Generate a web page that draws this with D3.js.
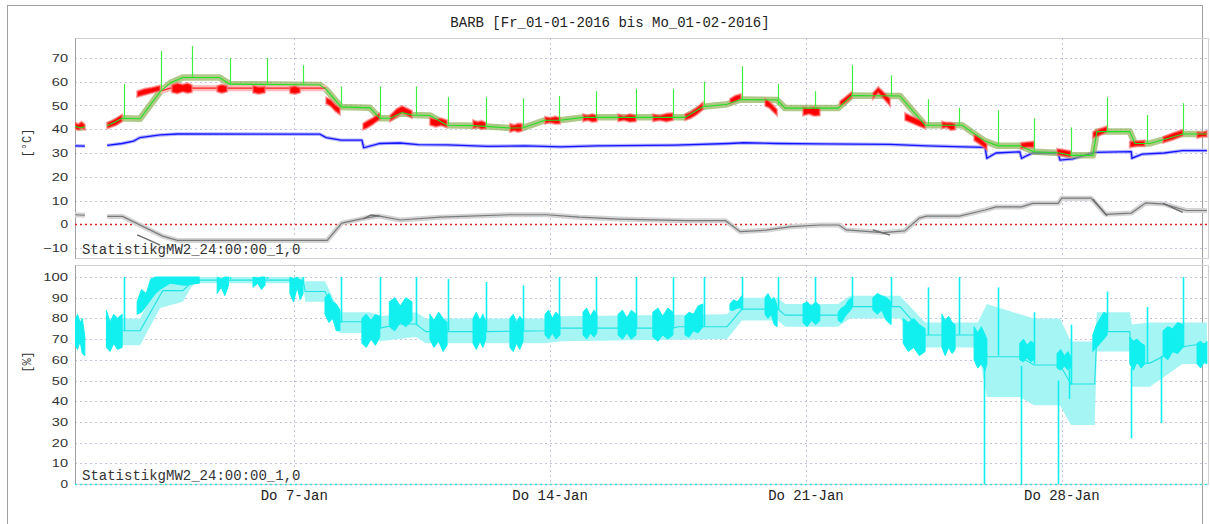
<!DOCTYPE html>
<html>
<head>
<meta charset="utf-8">
<script src="https://cdn.jsdelivr.net/npm/d3@7"></script>
<style>
body { margin: 0; background: #fff; }
</style>
</head>
<body>
<div id="chart"></div>
<script>
// all times are days after Fr 01-01-2016 00:00

// upper panel, temperatures [°C]
var tempTicks = [-10, 0, 10, 20, 30, 40, 50, 60, 70];
var greenLine = [
    [[0.00, 41.2], [0.14, 40.6], [0.27, 41.0]],
    [[0.88, 41.5], [1.10, 43.0], [1.29, 44.6], [1.78, 44.4], [2.33, 55.8], [2.62, 59.6], [2.95, 61.8], [3.95, 61.8],
     [4.24, 59.0], [6.70, 58.6], [6.87, 56.8], [7.28, 49.4], [8.07, 49.0], [8.34, 44.6], [8.62, 44.6], [8.95, 47.0],
     [9.22, 46.0], [9.71, 45.8], [10.18, 41.7], [10.89, 41.5], [11.24, 41.2], [11.90, 40.5], [12.26, 40.6],
     [12.86, 43.8], [13.27, 43.8], [13.90, 45.0], [16.69, 45.0], [17.18, 49.5], [17.84, 50.5], [18.22, 52.5],
     [19.21, 52.3], [19.43, 48.9], [20.88, 48.9], [21.26, 54.2], [22.57, 54.0], [23.26, 41.7], [24.27, 41.7],
     [24.90, 35.0], [25.25, 33.0], [25.85, 33.0], [26.24, 30.5], [26.95, 30.0], [27.25, 29.0], [27.85, 29.0],
     [27.96, 39.0], [28.86, 39.0], [29.00, 34.0], [29.41, 34.0], [30.31, 38.0], [30.97, 38.0]]
];
var redMean = [[2.33, 56.0], [2.60, 57.3], [6.87, 57.3]];
var redClusters = [
    [[0.00, 40.2, 42.8], [0.09, 39.6, 42.2], [0.18, 40.4, 43.2], [0.27, 39.8, 42.0]],
    [[0.88, 40.3, 42.8], [1.00, 41.0, 43.6], [1.12, 41.6, 44.6], [1.29, 43.3, 46.2]],
    [[1.70, 53.6, 56.0], [1.90, 54.4, 57.0], [2.10, 55.2, 57.6], [2.33, 56.2, 58.4]],
    [[2.65, 55.6, 58.6], [2.80, 55.0, 59.4], [2.95, 55.8, 58.8], [3.08, 55.2, 59.4], [3.20, 55.6, 58.6]],
    [[3.89, 55.8, 58.2], [4.02, 55.2, 58.8], [4.16, 55.8, 58.2]],
    [[4.87, 55.4, 58.4], [5.03, 54.8, 57.8], [5.20, 55.4, 58.0]],
    [[5.88, 55.2, 57.8], [6.02, 54.8, 58.2], [6.16, 55.4, 57.4]],
    [[6.87, 50.8, 53.4], [7.00, 49.6, 52.4], [7.12, 47.6, 50.4], [7.25, 46.2, 48.8]],
    [[7.88, 39.8, 42.4], [8.00, 40.6, 43.6], [8.15, 42.0, 44.8], [8.34, 44.2, 46.8]],
    [[8.62, 43.3, 45.8], [8.80, 45.2, 48.6], [8.95, 46.8, 49.8], [9.22, 44.8, 47.8]],
    [[9.71, 41.8, 44.8], [9.87, 41.0, 44.2], [10.02, 41.6, 44.6], [10.18, 40.8, 43.8]],
    [[10.89, 40.3, 43.8], [11.02, 40.8, 43.2], [11.12, 40.0, 43.6], [11.24, 40.3, 42.8]],
    [[11.90, 38.8, 42.3], [12.02, 39.4, 41.8], [12.12, 38.8, 42.4], [12.23, 39.3, 42.3]],
    [[12.86, 42.3, 45.3], [13.00, 42.8, 44.8], [13.14, 42.2, 45.4], [13.27, 42.3, 44.8]],
    [[13.90, 43.3, 46.3], [14.03, 43.8, 45.8], [14.15, 43.0, 46.4], [14.28, 43.3, 45.8]],
    [[14.86, 43.3, 46.3], [15.02, 43.8, 45.6], [15.18, 43.0, 46.4], [15.35, 43.3, 45.8]],
    [[15.81, 43.3, 46.3], [16.00, 43.8, 45.8], [16.18, 43.2, 46.6], [16.36, 43.8, 46.8]],
    [[16.69, 43.8, 46.3], [16.85, 44.6, 47.4], [17.02, 46.2, 49.2], [17.18, 48.3, 51.3]],
    [[17.92, 50.8, 52.8], [18.07, 51.6, 54.2], [18.22, 52.8, 54.8]],
    [[18.88, 49.8, 52.8], [18.99, 49.0, 51.8], [19.10, 47.4, 50.2], [19.21, 45.8, 48.3]],
    [[19.92, 45.8, 49.3], [20.08, 46.4, 48.8], [20.23, 45.6, 49.4], [20.38, 45.8, 48.8]],
    [[20.93, 49.8, 51.8], [21.08, 51.0, 53.6], [21.26, 53.3, 55.8]],
    [[21.83, 52.8, 55.3], [21.98, 55.3, 57.8], [22.14, 52.6, 55.4], [22.30, 49.8, 52.8]],
    [[22.71, 43.8, 46.8], [22.90, 42.6, 45.4], [23.08, 41.4, 44.2], [23.26, 40.3, 42.8]],
    [[23.72, 40.3, 43.3], [23.84, 40.8, 42.8], [23.96, 39.6, 42.8], [24.08, 39.8, 42.3]],
    [[24.60, 35.3, 37.8], [24.78, 33.4, 36.2], [24.95, 31.3, 33.8]],
    [[25.88, 31.8, 34.3], [26.06, 32.4, 34.6], [26.24, 32.3, 34.8]],
    [[26.87, 29.3, 31.8], [27.06, 28.6, 31.4], [27.25, 28.3, 30.8]],
    [[27.85, 36.3, 38.8], [28.04, 37.4, 40.2], [28.24, 38.8, 41.3]],
    [[28.86, 32.3, 34.8], [29.06, 32.8, 35.0], [29.27, 32.8, 35.3]],
    [[29.77, 34.3, 36.8], [30.04, 35.6, 38.4], [30.31, 37.3, 39.8]],
    [[30.70, 36.3, 38.8], [30.84, 36.8, 38.6], [30.97, 36.8, 39.3]]
];
var greenSpikes = [  // [day, from, to]
    [1.34, 44.5, 59], [2.35, 56, 73], [3.20, 62, 75], [4.24, 59, 70], [5.25, 58.5, 70], [6.24, 58.5, 67],
    [7.28, 49.4, 58], [8.34, 44.6, 58], [9.33, 46, 58], [10.20, 41.7, 53.5], [11.24, 41.2, 53.5],
    [12.26, 40.6, 53], [13.24, 43.8, 54], [14.25, 45, 56], [15.35, 45, 57], [16.36, 45, 57],
    [17.21, 49.5, 60], [18.25, 52.5, 66.5], [19.23, 50, 59], [20.25, 48.9, 56], [21.26, 54.2, 67],
    [22.33, 54, 62.7], [23.34, 41.7, 52.6], [24.19, 41.7, 49], [25.25, 33, 48], [26.24, 30.5, 44.6],
    [27.25, 29, 40.8], [28.24, 39, 53.5], [29.33, 34, 46], [30.31, 38, 51]
];
var blueLine = [
    [[0.00, 33.0], [0.27, 32.9]],
    [[0.88, 33.2], [1.29, 34.0], [1.60, 35.0], [1.78, 36.5], [2.33, 37.6], [2.80, 38.0], [6.70, 37.9],
     [6.87, 36.5], [7.28, 35.4], [7.85, 35.4], [7.90, 32.2], [8.34, 34.0], [8.89, 34.2], [9.40, 33.5],
     [10.20, 33.4], [11.30, 32.8], [12.30, 33.0], [13.30, 32.6], [14.30, 33.0], [16.40, 33.3], [17.90, 34.0],
     [18.30, 34.3], [19.20, 34.0], [20.40, 33.8], [22.30, 33.6], [23.30, 33.0], [24.30, 32.6], [24.90, 32.4],
     [24.95, 27.8], [25.20, 30.0], [25.85, 30.5], [25.90, 27.8], [26.20, 30.0], [26.90, 30.0], [26.95, 27.0],
     [27.30, 27.5], [27.90, 30.3], [28.90, 30.6], [28.92, 27.8], [29.20, 29.5], [29.80, 30.0], [30.30, 31.0],
     [30.97, 31.0]]
];
var grayLine = [
    [[0.00, 4.0], [0.27, 3.8]],
    [[0.88, 3.3], [1.30, 3.3], [2.40, -5.0], [2.80, -6.8], [6.90, -6.8], [7.30, 0.5], [7.90, 2.5], [8.30, 3.5],
     [8.90, 1.8], [10.00, 3.0], [11.90, 4.0], [12.90, 4.0], [13.80, 3.0], [14.90, 2.2], [16.70, 1.5],
     [17.80, 1.5], [18.20, -3.1], [18.90, -2.5], [19.60, -1.0], [20.40, -0.3], [20.90, -0.3], [21.10, -2.4],
     [22.10, -3.5], [22.70, -2.8], [23.10, 2.6], [23.30, 3.4], [24.20, 3.4], [24.90, 6.0], [25.20, 7.3],
     [25.90, 7.3], [26.20, 8.8], [26.90, 8.8], [27.00, 11.0], [27.80, 11.0], [28.20, 4.2], [28.90, 4.7],
     [29.30, 9.0], [29.80, 8.5], [30.40, 5.8], [30.97, 5.8]]
];
var grayRaw = [
    [[1.70, -4.5], [2.00, -6.5], [2.33, -8.8]],
    [[7.88, 2.2], [8.10, 3.9], [8.34, 3.4]],
    [[21.83, -2.4], [22.30, -4.6]],
    [[27.85, 10.6], [28.05, 7.0], [28.24, 3.6]],
    [[29.77, 8.8], [30.31, 5.0]]
];

// lower panel, relative humidity [%]
var humTicks = [0, 10, 20, 30, 40, 50, 60, 70, 80, 90, 100];
var humMean = [
    [0.88, 73], [1.29, 74], [1.78, 74], [2.40, 93.4], [2.95, 93.4], [3.25, 98.5], [6.24, 98.5], [6.30, 93],
    [6.84, 93], [7.25, 78.4], [8.07, 78.4], [8.34, 75.3], [8.90, 77.3], [9.33, 77.3], [9.60, 73.6],
    [11.24, 73.6], [12.86, 74], [13.30, 75.3], [16.36, 75.3], [16.50, 76], [17.84, 76], [18.25, 84.5],
    [19.23, 84.5], [19.43, 81.6], [20.88, 81.6], [21.20, 85.7], [22.57, 85.7], [23.26, 72], [24.90, 72],
    [24.95, 61.5], [25.85, 61.5], [26.24, 57.5], [26.95, 57.5], [27.25, 48.3], [27.90, 48.3], [27.96, 73.6],
    [28.86, 73.6], [28.92, 58.4], [29.41, 58.4], [30.30, 66.3], [30.97, 68]
];
var humBand = [  // [day, low, high]
    [0.88, 67, 80], [1.78, 67, 80], [2.33, 85, 99], [2.95, 88, 99], [3.25, 97, 100], [6.24, 97, 100],
    [6.30, 88, 98], [6.84, 88, 98], [7.25, 73, 83], [8.07, 73, 83], [8.34, 69, 81], [9.33, 71, 83],
    [9.60, 68, 80], [12.86, 68, 80], [13.30, 69, 81], [17.84, 70, 82], [18.25, 79, 90], [19.23, 79, 90],
    [19.43, 76, 87], [20.88, 76, 87], [21.20, 80, 91], [22.57, 80, 91], [23.26, 66, 78], [24.70, 66, 78],
    [24.95, 42, 87], [25.85, 42, 82], [26.24, 38, 80], [26.95, 38, 80], [27.25, 28.5, 68.8], [27.90, 28.5, 68.8],
    [27.96, 64, 83], [28.86, 64, 83], [28.92, 47, 77], [29.41, 47, 78], [30.30, 58, 78], [30.97, 58, 78]
];
var humClusters = [
    [[0.00, 67, 79], [0.07, 65, 82], [0.14, 69, 78], [0.20, 63, 80], [0.27, 62, 71]],
    [[0.86, 66, 84], [0.96, 64, 78], [1.06, 68, 82], [1.16, 65, 80], [1.29, 66, 82]],
    [[1.70, 82, 88], [1.82, 83, 94], [1.95, 86, 92], [2.07, 89, 99], [2.20, 92, 100], [2.33, 94, 100],
     [2.60, 97, 100], [3.00, 96, 100], [3.40, 97, 100]],
    [[3.89, 92, 100], [4.00, 95, 99], [4.10, 91, 100], [4.20, 96, 100]],
    [[4.87, 95, 100], [5.00, 97, 99.5], [5.10, 94, 100], [5.20, 96, 100]],
    [[5.88, 92, 100], [5.98, 88, 99], [6.08, 95, 100], [6.16, 89, 98], [6.24, 92, 99]],
    [[6.84, 82, 90], [6.95, 78, 92], [7.05, 80, 88], [7.15, 74, 87], [7.25, 74, 84]],
    [[7.85, 68, 80], [7.97, 66, 82], [8.10, 70, 79], [8.22, 67, 82], [8.34, 71, 81]],
    [[8.60, 76, 88], [8.75, 74, 90], [8.90, 78, 86], [9.05, 76, 90], [9.22, 79, 88]],
    [[9.71, 70, 82], [9.82, 66, 79], [9.95, 69, 83], [10.07, 64, 80], [10.18, 67, 78]],
    [[10.89, 68, 80], [10.98, 65, 83], [11.08, 69, 79], [11.16, 66, 82], [11.24, 70, 78]],
    [[11.90, 66, 80], [11.99, 64, 82], [12.08, 68, 78], [12.17, 65, 81], [12.26, 69, 79]],
    [[12.86, 72, 82], [12.96, 70, 84], [13.06, 73, 80], [13.16, 70, 83], [13.27, 72, 81]],
    [[13.90, 72, 83], [14.00, 70, 85], [14.10, 73, 81], [14.20, 71, 84], [14.28, 73, 82]],
    [[14.86, 72, 82], [14.98, 70, 84], [15.10, 73, 80], [15.22, 70, 84], [15.35, 72, 82]],
    [[15.81, 71, 83], [15.95, 69, 85], [16.08, 72, 81], [16.22, 70, 85], [16.36, 72, 83]],
    [[16.69, 72, 81], [16.80, 71, 83], [16.92, 74, 82], [17.05, 73, 86], [17.18, 76, 87]],
    [[17.92, 84, 87], [18.02, 84, 89], [18.12, 85, 88], [18.25, 85, 91]],
    [[18.88, 82, 90], [18.96, 80, 92], [19.05, 82, 89], [19.13, 77, 90], [19.21, 76, 86]],
    [[19.92, 78, 87], [20.03, 76, 88], [20.15, 79, 86], [20.27, 77, 88], [20.38, 79, 86]],
    [[20.88, 79, 83], [20.97, 78, 85], [21.07, 81, 86], [21.17, 83, 89], [21.26, 85, 90]],
    [[21.83, 84, 90], [21.95, 82, 92], [22.07, 84, 91], [22.20, 79, 90], [22.33, 77, 88]],
    [[22.66, 68, 80], [22.80, 64, 78], [22.95, 66, 80], [23.10, 62, 77], [23.26, 64, 75]],
    [[23.72, 66, 82], [23.81, 62, 79], [23.90, 66, 81], [24.00, 63, 78], [24.08, 65, 77]],
    [[24.60, 60, 76], [24.70, 56, 73], [24.80, 58, 76], [24.90, 55, 72], [24.95, 58, 70]],
    [[25.85, 60, 68], [25.95, 59, 70], [26.05, 61, 67], [26.15, 59, 69], [26.24, 60, 68]],
    [[26.87, 56, 63], [26.97, 55, 65], [27.07, 57, 62], [27.17, 55, 64], [27.25, 56, 61]],
    [[27.85, 64, 72], [27.95, 66, 77], [28.05, 68, 80], [28.15, 70, 83], [28.24, 72, 82]],
    [[28.86, 58, 71], [28.96, 55, 69], [29.06, 59, 70], [29.17, 56, 68], [29.27, 58, 67]],
    [[29.77, 62, 74], [29.90, 60, 76], [30.03, 64, 75], [30.17, 63, 78], [30.31, 66, 77]],
    [[30.70, 58, 68], [30.80, 56, 69], [30.90, 59, 67], [30.97, 58, 69]]
];
var humSpikes = [  // [day, from, to]
    [1.34, 74, 100], [3.20, 99, 100], [4.24, 99, 100], [5.25, 99, 100], [6.24, 99, 100], [7.28, 78, 100],
    [8.34, 75, 100], [9.33, 77, 100], [10.20, 74, 99], [11.24, 74, 97.6], [12.26, 74, 96], [13.24, 75, 100],
    [14.25, 75, 100], [15.35, 75, 100], [16.36, 76, 100], [17.21, 76, 100], [18.25, 84, 100], [19.23, 84, 100],
    [20.25, 82, 100], [21.26, 86, 100], [22.33, 86, 100], [23.34, 72, 95], [24.19, 72, 100], [25.25, 62, 95],
    [26.24, 58, 83], [27.25, 48, 77], [28.24, 74, 93], [29.33, 58, 85.5], [30.31, 66, 100],
    [24.87, 60, 0], [25.88, 57, 0], [26.89, 50, 0], [27.20, 55, 41], [28.89, 56, 22], [29.71, 62, 29.5]
];
var weekTicks = [6, 13, 20, 27];
var weekLabels = ['Do 7-Jan', 'Do 14-Jan', 'Do 21-Jan', 'Do 28-Jan'];
var titleText = 'BARB [Fr_01-01-2016 bis Mo_01-02-2016]';
var statLabel = 'StatistikgMW2_24:00:00_1,0';

var width = 1210, height = 524;
var plot = { left: 75, right: 1208, top1: 38, bottom1: 258, top2: 265, bottom2: 484 };

var t0 = new Date(2016, 0, 1);
function day (d) { return new Date(t0.getTime() + d * 864e5); }

var xScale = d3.scaleTime()
               .domain([t0, new Date(2016, 1, 1)])
               .range([plot.left, plot.right]);
var yTemp = d3.scaleLinear().domain([-14.2, 78.4]).range([plot.bottom1, plot.top1]);
var yHum  = d3.scaleLinear().domain([0, 105.8]).range([plot.bottom2, plot.top2]);

var svg = d3.select('#chart').append('svg')
            .attr('width', width)
            .attr('height', height);

// outer frame
svg.append('rect')
   .attr('x', 7.5).attr('y', 5.5).attr('width', 1195).attr('height', 530)
   .attr('fill', 'none').attr('stroke', '#a0a0a0');

svg.append('text')
   .attr('x', 610).attr('y', 27)
   .attr('text-anchor', 'middle')
   .attr('font-family', 'Liberation Mono, monospace')
   .attr('font-size', '14px')
   .attr('fill', '#222')
   .text(titleText);

function panel (ys, top, bottom, ticks, zeroColour, unit, unitY)
{
    var g = svg.append('g');

    g.append('rect')
     .attr('x', plot.left + 0.5).attr('y', top + 0.5)
     .attr('width', plot.right - plot.left).attr('height', bottom - top)
     .attr('fill', 'none').attr('stroke', '#d0d0d0');

    // grid
    g.selectAll('.hgrid').data(ticks.filter(function (t) { return t != 0; }))
     .enter().append('line')
     .attr('x1', plot.left).attr('x2', plot.right)
     .attr('y1', function (d) { return Math.round(ys(d)) + 0.5; })
     .attr('y2', function (d) { return Math.round(ys(d)) + 0.5; })
     .attr('stroke', '#c4c4dc').attr('stroke-dasharray', '2,3');

    g.selectAll('.vgrid').data(weekTicks)
     .enter().append('line')
     .attr('x1', function (d) { return Math.round(xScale(day(d))) + 0.5; })
     .attr('x2', function (d) { return Math.round(xScale(day(d))) + 0.5; })
     .attr('y1', top).attr('y2', bottom)
     .attr('stroke', '#c4c4dc').attr('stroke-dasharray', '2,3');

    var yAxis = d3.axisLeft(ys).tickValues(ticks).tickSize(0).tickPadding(7);
    var ax = g.append('g')
              .attr('transform', 'translate(' + plot.left + ',0)')
              .call(yAxis);
    ax.select('.domain').attr('stroke', '#a0a0a0');
    ax.selectAll('text')
      .attr('font-family', 'Liberation Sans, Arial, sans-serif')
      .attr('font-size', '11px')
      .attr('fill', '#333')
      .attr('textLength', function (d) { return String(d).length * 8.6 - 1; })
      .attr('lengthAdjust', 'spacingAndGlyphs');

    g.append('text')
     .attr('transform', 'translate(31,' + unitY + ') rotate(-90)')
     .attr('text-anchor', 'middle')
     .attr('font-family', 'Liberation Mono, monospace')
     .attr('font-size', '12px')
     .attr('fill', '#333')
     .text(unit);

    g.append('line')
     .attr('x1', plot.left).attr('x2', plot.right)
     .attr('y1', Math.round(ys(0)) + 0.5).attr('y2', Math.round(ys(0)) + 0.5)
     .attr('stroke', zeroColour).attr('stroke-width', 1.5).attr('stroke-dasharray', '2,3');

    g.append('text')
     .attr('x', plot.left + 7).attr('y', bottom - 4)
     .attr('font-family', 'Liberation Mono, monospace')
     .attr('font-size', '14px')
     .attr('fill', '#333')
     .text(statLabel);

    return g;
}

var gT = panel(yTemp, plot.top1, plot.bottom1, tempTicks, '#e02020', '[°C]', 143);
var gH = panel(yHum, plot.top2, plot.bottom2, humTicks, '#30e0e0', '[%]', 362);

// x axis labels
svg.selectAll('.xlab').data(weekTicks)
   .enter().append('text')
   .attr('x', function (d) { return xScale(day(d)); })
   .attr('y', 500)
   .attr('text-anchor', 'middle')
   .attr('font-family', 'Liberation Mono, monospace')
   .attr('font-size', '14px')
   .attr('fill', '#222')
   .text(function (d, i) { return weekLabels[i]; });

function lineGen (ys)
{
    return d3.line()
             .x(function (p) { return xScale(day(p[0])); })
             .y(function (p) { return ys(p[1]); });
}

function areaGen (ys)
{
    return d3.area()
             .x(function (p) { return xScale(day(p[0])); })
             .y0(function (p) { return ys(p[1]); })
             .y1(function (p) { return ys(p[2]); });
}

svg.append('clipPath').attr('id', 'clipT').append('rect')
   .attr('x', plot.left).attr('y', plot.top1)
   .attr('width', plot.right - plot.left).attr('height', plot.bottom1 - plot.top1);
svg.append('clipPath').attr('id', 'clipH').append('rect')
   .attr('x', plot.left).attr('y', plot.top2)
   .attr('width', plot.right - plot.left).attr('height', plot.bottom2 - plot.top2);

var dT = svg.append('g').attr('clip-path', 'url(#clipT)');
var dH = svg.append('g').attr('clip-path', 'url(#clipH)');

// ---- temperatures ----
var lT = lineGen(yTemp), aT = areaGen(yTemp);

// gray (outside) with its band
dT.selectAll('.grayBand').data(grayLine).enter().append('path')
  .attr('d', lT).attr('fill', 'none')
  .attr('stroke', '#d4d4d4').attr('stroke-width', 5).attr('stroke-linejoin', 'round');
dT.selectAll('.grayLine').data(grayLine).enter().append('path')
  .attr('d', lT).attr('fill', 'none')
  .attr('stroke', '#7a7a7a').attr('stroke-width', 1.2);
dT.selectAll('.grayRaw').data(grayRaw).enter().append('path')
  .attr('d', lT).attr('fill', 'none')
  .attr('stroke', '#6a6a6a').attr('stroke-width', 1.3);

// blue
dT.selectAll('.blueBand').data(blueLine).enter().append('path')
  .attr('d', lT).attr('fill', 'none')
  .attr('stroke', '#b4b4ff').attr('stroke-width', 3.5).attr('stroke-linejoin', 'round');
dT.selectAll('.blueLine').data(blueLine).enter().append('path')
  .attr('d', lT).attr('fill', 'none')
  .attr('stroke', '#1414ff').attr('stroke-width', 1.3);

// green band
dT.selectAll('.greenBand').data(greenLine).enter().append('path')
  .attr('d', lT).attr('fill', 'none')
  .attr('stroke', '#8fb055').attr('stroke-opacity', 0.7)
  .attr('stroke-width', 6.5).attr('stroke-linejoin', 'round');

// red mean with pink band
dT.append('path').datum(redMean)
  .attr('d', lT).attr('fill', 'none')
  .attr('stroke', '#ffb8b8').attr('stroke-width', 6);
dT.append('path').datum(redMean)
  .attr('d', lT).attr('fill', 'none')
  .attr('stroke', '#ff2020').attr('stroke-width', 1.1);

// measured red clusters
dT.selectAll('.redC').data(redClusters).enter().append('path')
  .attr('d', aT)
  .attr('fill', '#ff0000')
  .attr('stroke', '#ff7070').attr('stroke-width', 2).attr('stroke-opacity', 0.6);

dT.selectAll('.greenLine').data(greenLine).enter().append('path')
  .attr('d', lT).attr('fill', 'none')
  .attr('stroke', '#22e022').attr('stroke-width', 1.1);

dT.selectAll('.gSpike').data(greenSpikes).enter().append('line')
  .attr('x1', function (d) { return Math.round(xScale(day(d[0]))) + 0.5; })
  .attr('x2', function (d) { return Math.round(xScale(day(d[0]))) + 0.5; })
  .attr('y1', function (d) { return yTemp(d[1]); })
  .attr('y2', function (d) { return yTemp(d[2]); })
  .attr('stroke', '#40ee40').attr('stroke-width', 1.2);

// ---- humidity ----
var lH = lineGen(yHum), aH = areaGen(yHum);

dH.append('path').datum(humBand)
  .attr('d', aH)
  .attr('fill', '#a6f5f5');

dH.append('path').datum(humMean)
  .attr('d', lH).attr('fill', 'none')
  .attr('stroke', '#20e4e4').attr('stroke-width', 1.1);

dH.selectAll('.humC').data(humClusters).enter().append('path')
  .attr('d', aH)
  .attr('fill', '#12efef')
  .attr('stroke', '#12efef').attr('stroke-width', 1);

dH.selectAll('.hSpike').data(humSpikes).enter().append('line')
  .attr('x1', function (d) { return Math.round(xScale(day(d[0]))) + 0.5; })
  .attr('x2', function (d) { return Math.round(xScale(day(d[0]))) + 0.5; })
  .attr('y1', function (d) { return yHum(d[1]); })
  .attr('y2', function (d) { return yHum(d[2]); })
  .attr('stroke', '#12efef').attr('stroke-width', 1.6);
</script>
</body>
</html>
